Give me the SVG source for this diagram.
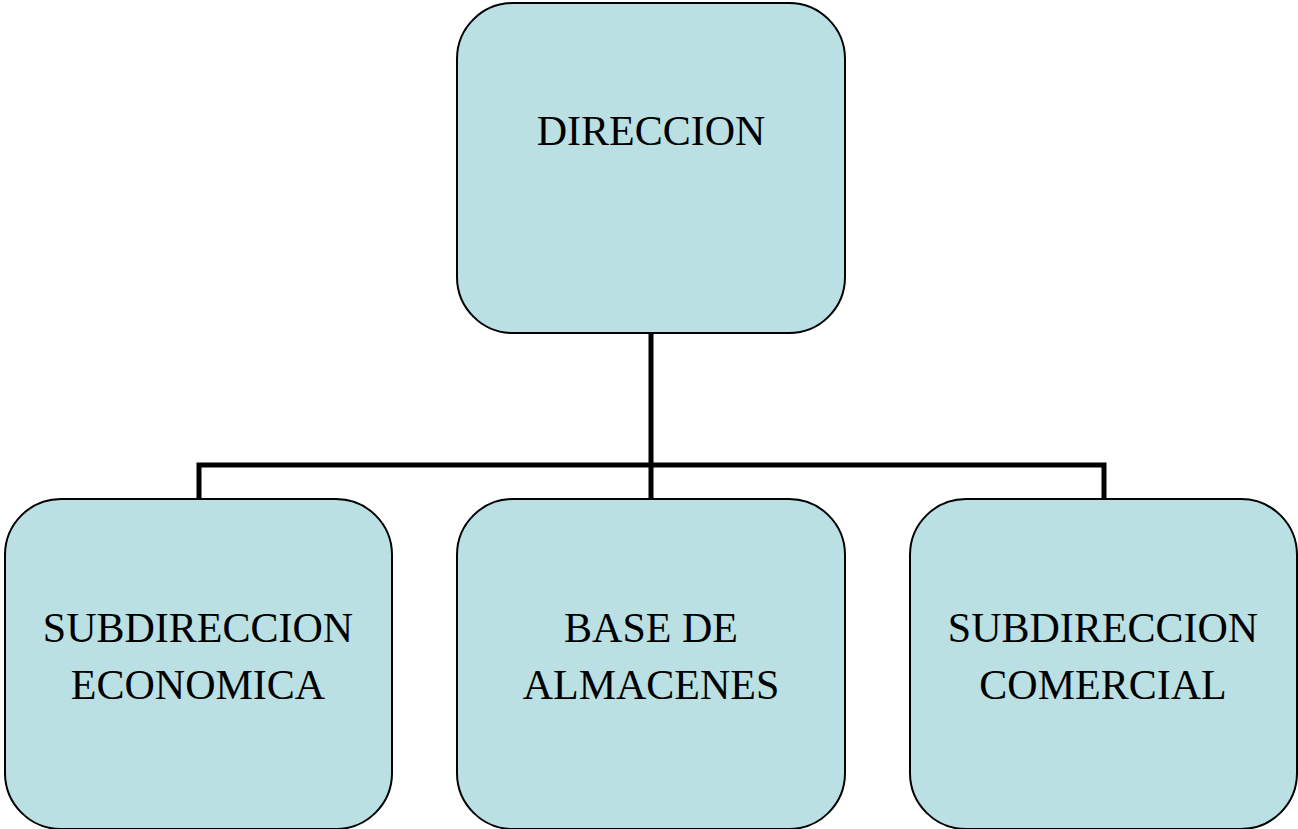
<svg xmlns="http://www.w3.org/2000/svg" width="1298" height="829" viewBox="0 0 1298 829">
<style>
.box{fill:#bae0e3;stroke:#000;stroke-width:2}
.lbl{font-family:"Liberation Serif","Times New Roman",serif;font-size:42px;fill:#000;text-anchor:middle}
.conn{fill:none;stroke:#000;stroke-width:5;stroke-linecap:square}
</style>
<rect width="1298" height="829" fill="#fff"/>
<g id="connectors">
<path class="conn" d="M651 334V465M199 465H1104M199 465V498M651 465V498M1104 465V498"/>
</g>
<g id="n-direccion">
<rect class="box" x="457" y="3" width="388" height="330" rx="56" ry="56"/>
<text class="lbl" x="651" y="145">DIRECCION</text>
</g>
<g id="n-economica">
<rect class="box" x="5" y="499" width="387" height="330" rx="56" ry="56"/>
<text class="lbl" x="198" y="642">SUBDIRECCION</text>
<text class="lbl" x="198" y="699">ECONOMICA</text>
</g>
<g id="n-almacenes">
<rect class="box" x="457" y="499" width="388" height="330" rx="56" ry="56"/>
<text class="lbl" x="651" y="642">BASE DE</text>
<text class="lbl" x="651" y="699">ALMACENES</text>
</g>
<g id="n-comercial">
<rect class="box" x="910" y="499" width="387" height="330" rx="56" ry="56"/>
<text class="lbl" x="1103" y="642">SUBDIRECCION</text>
<text class="lbl" x="1103" y="699">COMERCIAL</text>
</g>
</svg>
